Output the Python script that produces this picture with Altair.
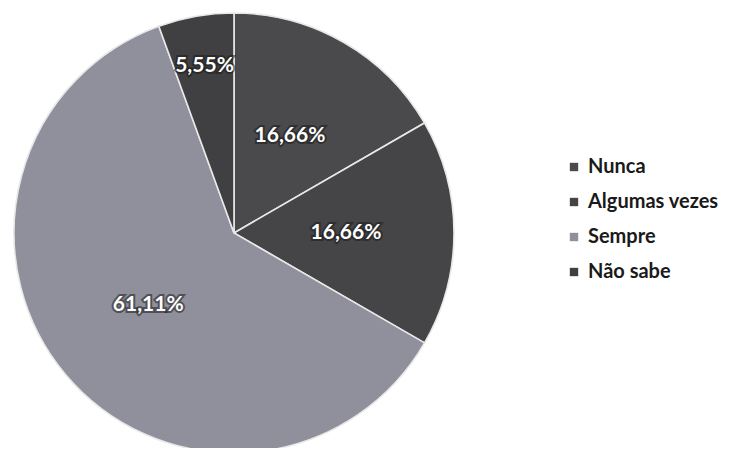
import altair as alt
import pandas as pd

categories = ["Nunca", "Algumas vezes", "Sempre", "Não sabe"]
values = [16.66, 16.66, 61.11, 5.55]
labels = ["16,66%", "16,66%", "61,11%", "5,55%"]
colors = ["#4a4a4d", "#454547", "#8f909b", "#404042"]

df = pd.DataFrame({
    "categoria": categories,
    "valor": values,
    "rotulo": labels,
    "ordem": list(range(len(categories))),
})

CX, CY, R = 226, 225, 220
FONT = "Lato"

base = alt.Chart(df).encode(
    theta=alt.Theta("valor:Q", stack=True),
    order=alt.Order("ordem:Q"),
)

pie = base.mark_arc(
    x=CX, y=CY, outerRadius=R, stroke="#e8e8e8", strokeWidth=1.6
).encode(
    color=alt.Color(
        "categoria:N",
        scale=alt.Scale(domain=categories, range=colors),
        sort=categories,
        legend=alt.Legend(
            title=None,
            orient="none",
            legendX=556,
            legendY=149,
            symbolType="square",
            symbolSize=70,
            symbolStrokeWidth=0,
            labelFont=FONT,
            labelFontSize=20,
            labelFontWeight="bold",
            labelColor="#1a1a1a",
            labelLimit=300,
            rowPadding=15,
            labelOffset=4,
        ),
    )
)

def label_layer(cond, radius, halo):
    kw = dict(x=CX, y=CY, radius=radius, font=FONT, fontSize=21, fontWeight="bold",
              align="center", baseline="middle")
    if halo:
        kw.update(fill="#1a1a1a", stroke="#1a1a1a", strokeWidth=4, strokeOpacity=0.55, fillOpacity=0.6)
    else:
        kw.update(fill="white")
    return base.mark_text(**kw).encode(
        text=alt.condition(cond, "rotulo:N", alt.value(""))
    )

big = "datum.categoria != 'Não sabe'"
small = "datum.categoria == 'Não sabe'"

chart = alt.layer(
    pie,
    label_layer(big, 112, True), label_layer(big, 112, False),
    label_layer(small, 170, True), label_layer(small, 170, False),
).properties(
    width=724, height=440, autosize=alt.AutoSizeParams(type="none"), padding=0,
    background="white",
).configure_view(stroke=None)

chart.save("out.html", embed_options={"renderer": "svg", "actions": False})
